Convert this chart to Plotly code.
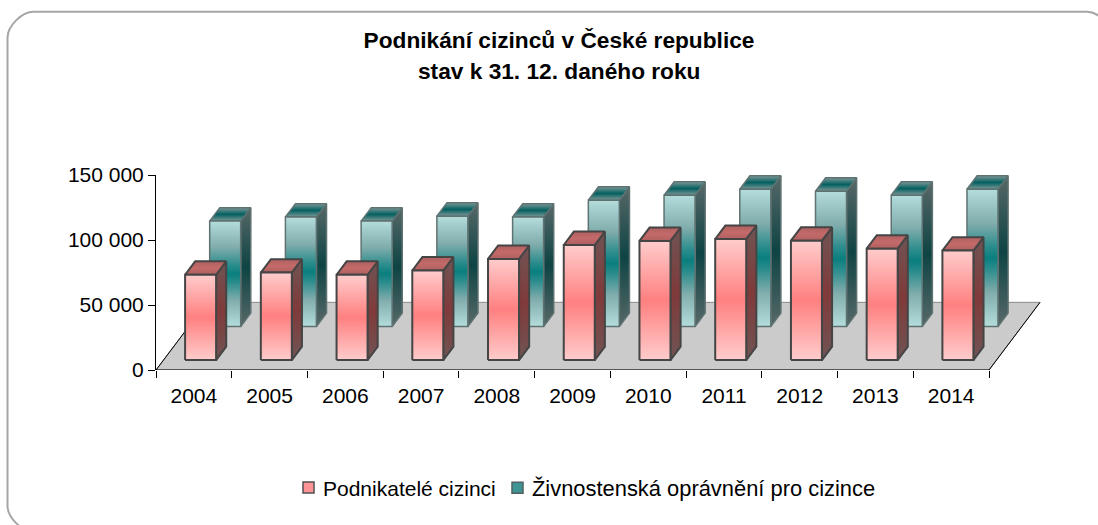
import plotly.graph_objects as go

# ---- data ----
years = ["2004", "2005", "2006", "2007", "2008", "2009", "2010", "2011", "2012", "2013", "2014"]
podnikatele = [65600, 67300, 65600, 68900, 77800, 88500, 91600, 93100, 91800, 85700, 84200]
zivnosti = [81100, 84200, 81100, 84900, 84200, 97200, 101000, 105600, 104100, 101000, 105600]
y_ticks = [0, 50000, 100000, 150000]
y_tick_labels = ["0", "50 000", "100 000", "150 000"]
series_names = ["Podnikatelé cizinci", "Živnostenská oprávnění pro cizince"]

# ---- layout geometry (pixels) ----
W, H = 1098, 525
PLOT_L, PLOT_R, PLOT_T, PLOT_B = 156, 1046, 174.5, 370.5
CAT_PX = 75.73
PER_PX = 150000 / (PLOT_B - PLOT_T)
SLANT = 0.75          # horizontal shift per vertical px of depth
FLOOR_DEPTH = 68
BAR_DEPTH = 13.5
BAR_W = 31
RED_OFF, TEAL_OFF = 21.6, 20.9
RED_D, TEAL_D = 10, 43.7

x_min = -0.5
x_max = (PLOT_R - PLOT_L) / CAT_PX - 0.5


def proj(left_cat, px_off, value, depth):
    return (left_cat + (px_off + SLANT * depth) / CAT_PX, value + depth * PER_PX)


def poly(points, scale, line_color, line_w):
    xs = [p[0] for p in points] + [points[0][0]]
    ys = [p[1] for p in points] + [points[0][1]]
    return go.Scatter(
        x=xs, y=ys, mode="lines", fill="toself", showlegend=False, hoverinfo="skip",
        cliponaxis=False,
        line=dict(color=line_color, width=line_w),
        fillgradient=dict(type="vertical", colorscale=scale),
    )


def sym(end, mid):
    return [[0, end], [0.5, mid], [1, end]]


def sym5(end, quarter, near, mid):
    return [[0, end], [0.25, quarter], [0.42, near], [0.5, mid], [0.58, near], [0.75, quarter], [1, end]]


fig = go.Figure()

# floor
floor = [proj(-0.5, 0, 0, 0), proj(10.5, 0, 0, 0), proj(10.5, 0, 0, FLOOR_DEPTH), proj(-0.5, 0, 0, FLOOR_DEPTH)]
fig.add_trace(go.Scatter(x=[p[0] for p in floor] + [floor[0][0]], y=[p[1] for p in floor] + [floor[0][1]],
                         mode="lines", fill="toself", fillcolor="#CBCBCB", cliponaxis=False,
                         line=dict(color="#8a8a8a", width=1), showlegend=False, hoverinfo="skip"))
for a, b in [(floor[3], floor[0]), (floor[0], floor[1]), (floor[1], floor[2])]:
    fig.add_trace(go.Scatter(x=[a[0], b[0]], y=[a[1], b[1]], mode="lines", cliponaxis=False,
                             line=dict(color="#000000", width=1), showlegend=False, hoverinfo="skip"))


def add_bars(values, off, depth, front, side, top, line_color, line_w):
    for i, v in enumerate(values):
        left = i - 0.5
        a = proj(left, off, 0, depth)
        b = proj(left, off + BAR_W, 0, depth)
        c = proj(left, off + BAR_W, v, depth)
        d = proj(left, off, v, depth)
        b2 = proj(left, off + BAR_W, 0, depth + BAR_DEPTH)
        c2 = proj(left, off + BAR_W, v, depth + BAR_DEPTH)
        d2 = proj(left, off, v, depth + BAR_DEPTH)
        fig.add_trace(poly([b, b2, c2, c], side, line_color, line_w))
        fig.add_trace(poly([d, c, c2, d2], top, line_color, line_w))
        fig.add_trace(poly([a, b, c, d], front, line_color, line_w))


add_bars(zivnosti, TEAL_OFF, TEAL_D, sym5("#B4DDDC", "#80ACAC", "#2A8C8C", "#0A7E7E"), sym("#586868", "#0E4444"),
         sym("#7E9898", "#046060"), "#5F7272", 1.5)
add_bars(podnikatele, RED_OFF, RED_D, sym("#FFCCCC", "#FF8080"), sym("#705454", "#803A3A"), sym("#B06060", "#C46A6A"), "#454545", 2)

# legend entries
fig.add_trace(go.Scatter(x=[None], y=[None], mode="markers", name=series_names[0], legend="legend",
                         marker=dict(symbol="square", size=11, color="#FF9494", line=dict(color="#505050", width=1.5))))
fig.add_trace(go.Scatter(x=[None], y=[None], mode="markers", name=series_names[1], legend="legend2",
                         marker=dict(symbol="square", size=11, color="#3F9494", line=dict(color="#506060", width=1.5))))


def px(x):
    return (x - PLOT_L) / (PLOT_R - PLOT_L)


def py(y):
    return (PLOT_B - y) / (PLOT_B - PLOT_T)


# rounded frame that runs off the right and bottom of the picture
L, T, R, B, r = 7.5, 10.5, 1113, 533, 26
k = 0.45 * r
frame = (f"M {px(L)} {py(T + r)} C {px(L)} {py(T + r - k)} {px(L + r - k)} {py(T)} {px(L + r)} {py(T)} "
         f"L {px(R - r)} {py(T)} C {px(R - r + k)} {py(T)} {px(R)} {py(T + r - k)} {px(R)} {py(T + r)} "
         f"L {px(R)} {py(B - r)} C {px(R)} {py(B - r + k)} {px(R - r + k)} {py(B)} {px(R - r)} {py(B)} "
         f"L {px(L + r)} {py(B)} C {px(L + r - k)} {py(B)} {px(L)} {py(B - r + k)} {px(L)} {py(B - r)} Z")

FONT = "Liberation Sans, Arial, sans-serif"
LEG = dict(orientation="h", xanchor="left", y=py(489), yanchor="middle", itemwidth=30, bgcolor="rgba(0,0,0,0)")
fig.update_layout(
    width=W, height=H, autosize=False,
    margin=dict(l=PLOT_L, r=W - PLOT_R, t=PLOT_T, b=H - PLOT_B, pad=0),
    paper_bgcolor="white", plot_bgcolor="rgba(0,0,0,0)",
    font=dict(family=FONT, color="black", size=21),
    title=dict(text="<b>Podnikání cizinců v České republice</b>", x=559 / W, xanchor="center",
               y=1 - 40.5 / H, yanchor="middle", font=dict(size=22.7, family=FONT)),
    annotations=[dict(text="<b>stav k 31. 12. daného roku</b>", xref="paper", yref="paper",
                      x=px(559), y=py(70), showarrow=False, xanchor="center", yanchor="middle",
                      font=dict(size=22.7, family=FONT))],
    shapes=[dict(type="path", path=frame, xref="paper", yref="paper", layer="below",
                 line=dict(color="#A6A6A6", width=2))],
    showlegend=True,
    legend=dict(x=px(283), font=dict(size=21, family=FONT), **LEG),
    legend2=dict(x=px(492), font=dict(size=21.9, family=FONT), **LEG),
    xaxis=dict(range=[x_min, x_max], tickmode="array", tickvals=list(range(len(years))), ticktext=years,
               ticks="", showgrid=False, zeroline=False, showline=False, ticklabelstandoff=11,
               tickfont=dict(size=21, family=FONT),
               minor=dict(tickmode="array", tickvals=[i - 0.5 for i in range(len(years) + 1)],
                          ticks="outside", ticklen=7, tickcolor="black", tickwidth=1, showgrid=False)),
    yaxis=dict(range=[0, 150000], tickmode="array", tickvals=y_ticks, ticktext=y_tick_labels,
               ticks="outside", ticklen=7, tickcolor="black", tickwidth=1, showgrid=False, zeroline=False,
               showline=True, linecolor="black", linewidth=1, tickfont=dict(size=21, family=FONT)),
)

fig.write_html(
    "out.html",
    config={"displayModeBar": False},
    post_script=("document.body.style.margin='0';document.documentElement.style.overflow='hidden';"
                 "document.querySelectorAll('.legendsymbols').forEach(function(g){g.setAttribute('transform','translate(5.5,0)');});"),
)
